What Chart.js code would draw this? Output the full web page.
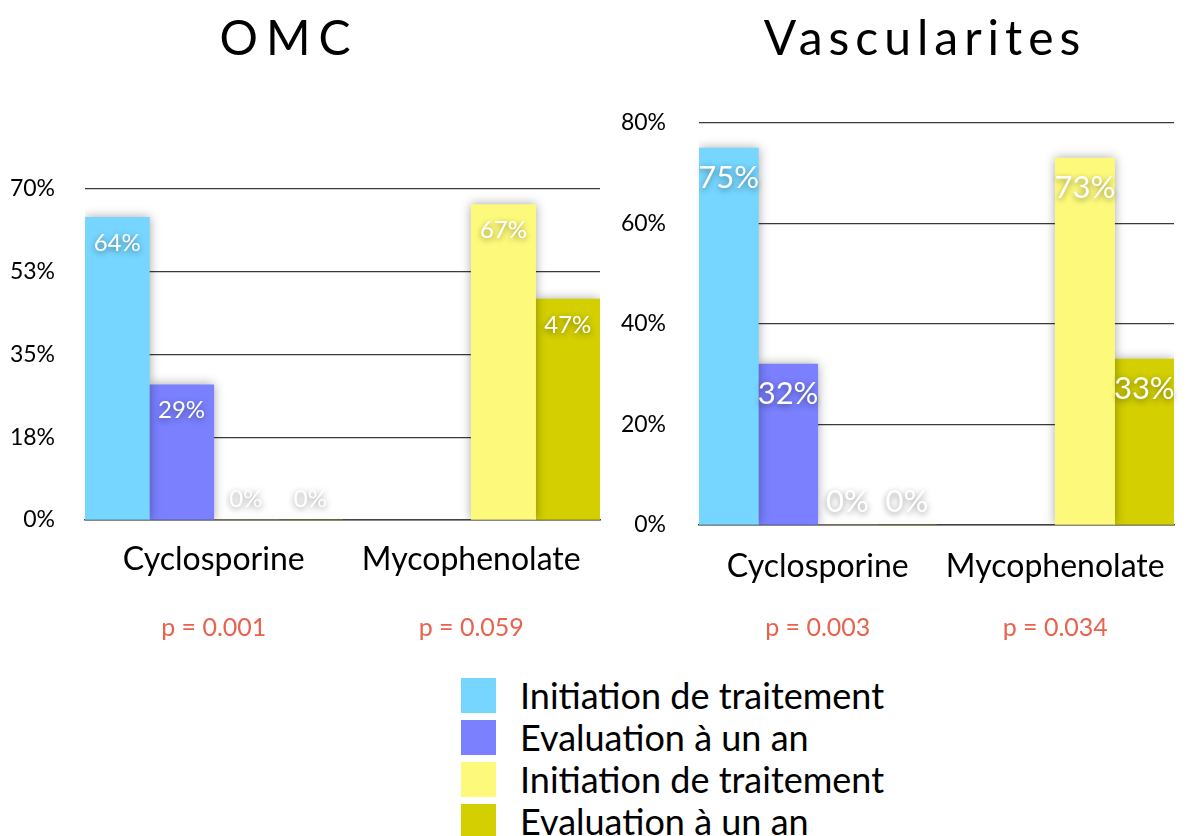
<!DOCTYPE html>
<html lang="fr">
<head>
<meta charset="UTF-8">
<title>OMC / Vascularites</title>
<script src="https://cdn.jsdelivr.net/npm/chart.js@4.4.1/dist/chart.umd.min.js"></script>
<style>
  body { margin: 0; background: #fff; width: 1195px; height: 836px; position: relative; overflow: hidden; font-family: Lato, sans-serif; }
  #omcBox { position: absolute; left: 0; top: 0; width: 610px; height: 660px; }
  #vascBox { position: absolute; left: 600px; top: 0; width: 595px; height: 660px; }
  #legend { position: absolute; left: 461px; top: 674px; }
  .row { display: flex; align-items: center; height: 42px; }
  .swatch { width: 35px; height: 35px; margin-right: 24px; }
  .row span { font-size: 36px; color: #000; }
</style>
</head>
<body>
<div id="omcBox"><canvas id="omcChart"></canvas></div>
<div id="vascBox"><canvas id="vascChart"></canvas></div>
<div id="legend"></div>

<script>
// data
const categories = ['Cyclosporine', 'Mycophenolate'];
const seriesNames = ['Initiation de traitement', 'Evaluation à un an', 'Initiation de traitement', 'Evaluation à un an'];
const seriesColors = ['#76d6ff', '#7a80ff', '#fdfa7b', '#d3cf00'];

const omcCycloInit = [64, null];
const omcCycloEval = [28.6, null];
const omcMycoInit = [0, 66.7];
const omcMycoEval = [0, 46.7];
const omcPValues = ['0.001', '0.059'];

const vascCycloInit = [75, null];
const vascCycloEval = [32, null];
const vascMycoInit = [0, 73];
const vascMycoEval = [0, 33];
const vascPValues = ['0.003', '0.034'];

// soft shadow under the bars
const barShadow = {
  id: 'barShadow',
  beforeDatasetsDraw(chart) {
    const c = chart.ctx;
    c.save();
    c.shadowColor = 'rgba(0,0,0,0.35)';
    c.shadowBlur = 10;
  },
  afterDatasetsDraw(chart) {
    chart.ctx.restore();
  }
};

const valueLabels = {
  id: 'valueLabels',
  afterDatasetsDraw(chart, args, opts) {
    const c = chart.ctx;
    c.save();
    c.font = opts.size + 'px Lato';
    c.textAlign = 'center';
    c.textBaseline = 'middle';
    c.fillStyle = '#fff';
    c.shadowColor = 'rgba(0,0,0,0.45)';
    c.shadowBlur = 6;
    c.shadowOffsetY = 2;
    chart.data.datasets.forEach((ds, i) => {
      chart.getDatasetMeta(i).data.forEach((bar, j) => {
        const v = ds.data[j];
        if (v === null) return;
        const y = v > 0 ? bar.y + opts.offset : bar.base - opts.offset * 0.78;
        c.fillText(Math.round(v) + '%', bar.x, y);
      });
    });
    c.restore();
  }
};

const bigTitle = {
  id: 'bigTitle',
  afterDraw(chart, args, opts) {
    const c = chart.ctx;
    c.save();
    c.font = '48px Lato';
    c.letterSpacing = opts.spacing;
    c.fillStyle = '#000';
    c.textAlign = 'center';
    c.textBaseline = 'alphabetic';
    c.fillText(opts.text, opts.x, opts.y);
    c.restore();
  }
};

const pValues = {
  id: 'pValues',
  afterDraw(chart, args, opts) {
    const c = chart.ctx;
    c.save();
    c.font = '25px Lato';
    c.fillStyle = '#e8624e';
    c.textAlign = 'center';
    c.textBaseline = 'middle';
    opts.values.forEach((p, i) => {
      c.fillText('p = ' + p, chart.scales.x.getPixelForValue(i), opts.y);
    });
    c.restore();
  }
};

function buildChart(id, seriesData, cfg) {
  const datasets = seriesData.map((d, i) => ({
    label: seriesNames[i],
    data: d,
    backgroundColor: seriesColors[i],
    barPercentage: 1,
    categoryPercentage: 1
  }));
  return new Chart(document.getElementById(id), {
    type: 'bar',
    data: { labels: categories, datasets: datasets },
    plugins: [barShadow, valueLabels, bigTitle, pValues],
    options: {
      responsive: true,
      maintainAspectRatio: false,
      animation: false,
      layout: { padding: cfg.padding },
      plugins: {
        legend: { display: false },
        tooltip: { enabled: false },
        valueLabels: { size: cfg.labelSize, offset: cfg.labelOffset },
        bigTitle: { text: cfg.title, x: cfg.titleX, y: 55, spacing: cfg.spacing },
        pValues: { values: cfg.pvals, y: 628 }
      },
      scales: {
        x: {
          grid: { display: false },
          border: { display: true, color: '#444', width: 1.5 },
          ticks: { color: '#000', font: { family: 'Lato', size: 32 }, padding: cfg.xPad, maxRotation: 0 },
          afterFit: s => { s.height = 80; }
        },
        y: {
          min: 0,
          max: cfg.yMax,
          grid: { color: '#3a3a3a', lineWidth: 1.3, drawTicks: false },
          border: { display: false },
          ticks: {
            stepSize: cfg.yStep,
            padding: cfg.yPad,
            color: '#000',
            font: { family: 'Lato', size: 23 },
            callback: v => Math.round(v) + '%'
          },
          afterFit: s => { s.width = cfg.yWidth; }
        }
      }
    }
  });
}

buildChart('omcChart', [omcCycloInit, omcCycloEval, omcMycoInit, omcMycoEval], {
  title: 'OMC', titleX: 289, spacing: '8px', pvals: omcPValues,
  yMax: 70, yStep: 17.5, yWidth: 85, yPad: 30, xPad: 12,
  padding: { left: 0, right: 10, top: 189, bottom: 60 },
  labelSize: 24, labelOffset: 26
});

buildChart('vascChart', [vascCycloInit, vascCycloEval, vascMycoInit, vascMycoEval], {
  title: 'Vascularites', titleX: 325, spacing: '6px', pvals: vascPValues,
  yMax: 80, yStep: 20, yWidth: 99, yPad: 33, xPad: 14,
  padding: { left: 0, right: 21, top: 123, bottom: 55 },
  labelSize: 31, labelOffset: 30
});

// legend
const legend = document.getElementById('legend');
seriesNames.forEach((name, i) => {
  const row = document.createElement('div');
  row.className = 'row';
  const sw = document.createElement('div');
  sw.className = 'swatch';
  sw.style.background = seriesColors[i];
  const txt = document.createElement('span');
  txt.textContent = name;
  row.appendChild(sw);
  row.appendChild(txt);
  legend.appendChild(row);
});
</script>
</body>
</html>
